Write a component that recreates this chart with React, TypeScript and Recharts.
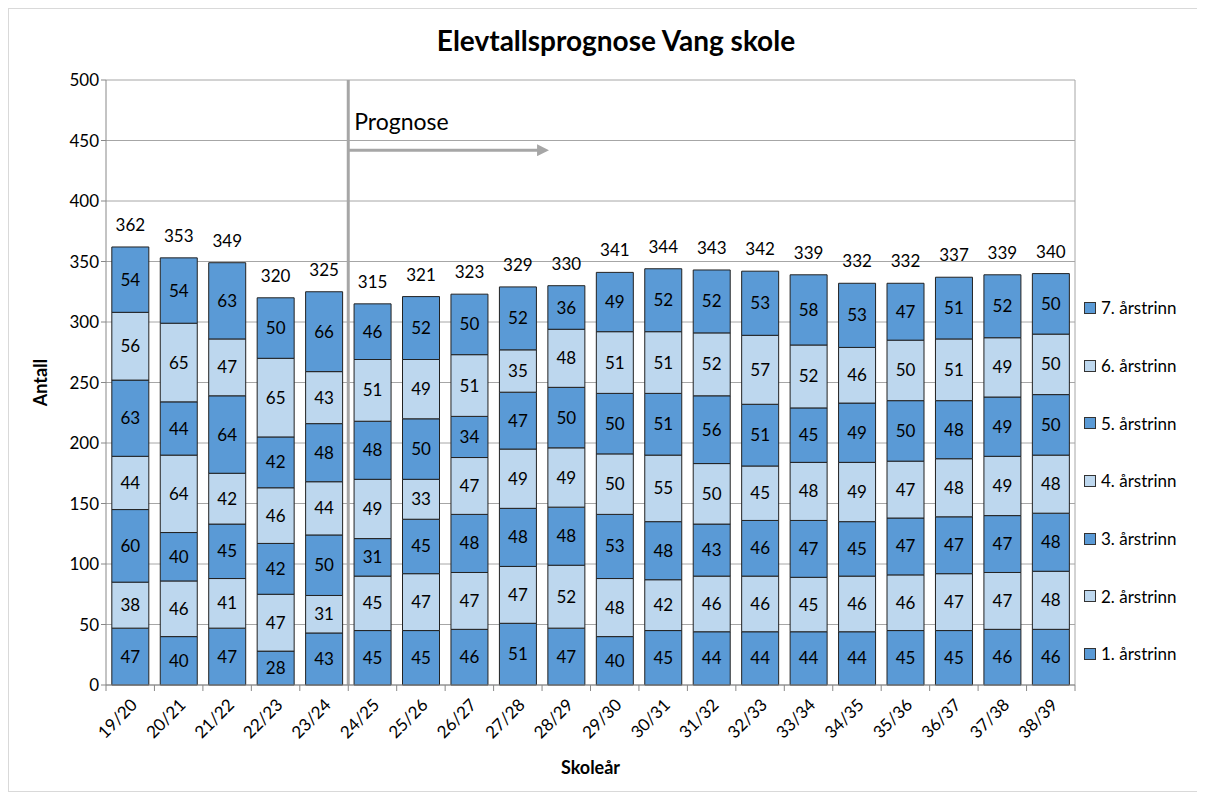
import React from 'react';
import { BarChart, Bar, XAxis, YAxis, CartesianGrid, LabelList, Legend, ReferenceLine, Label } from 'recharts';

const categories = ['19/20','20/21','21/22','22/23','23/24','24/25','25/26','26/27','27/28','28/29','29/30','30/31','31/32','32/33','33/34','34/35','35/36','36/37','37/38','38/39'];
const trinn1 = [47,40,47,28,43,45,45,46,51,47,40,45,44,44,44,44,45,45,46,46];
const trinn2 = [38,46,41,47,31,45,47,47,47,52,48,42,46,46,45,46,46,47,47,48];
const trinn3 = [60,40,45,42,50,31,45,48,48,48,53,48,43,46,47,45,47,47,47,48];
const trinn4 = [44,64,42,46,44,49,33,47,49,49,50,55,50,45,48,49,47,48,49,48];
const trinn5 = [63,44,64,42,48,48,50,34,47,50,50,51,56,51,45,49,50,48,49,50];
const trinn6 = [56,65,47,65,43,51,49,51,35,48,51,51,52,57,52,46,50,51,49,50];
const trinn7 = [54,54,63,50,66,46,52,50,52,36,49,52,52,53,58,53,47,51,52,50];
const seriesNames = ['1. årstrinn','2. årstrinn','3. årstrinn','4. årstrinn','5. årstrinn','6. årstrinn','7. årstrinn'];
const yTicks = [0,50,100,150,200,250,300,350,400,450,500];

const allSeries = [trinn1, trinn2, trinn3, trinn4, trinn5, trinn6, trinn7];
const DARK = '#5A9AD6';
const LIGHT = '#BDD7EE';
const FONT = 'Lato, "Liberation Sans", sans-serif';

const data = categories.map((c, i) => {
  const row: any = { name: c };
  let total = 0;
  allSeries.forEach((s, k) => { row['s' + k] = s[i]; total += s[i]; });
  row.total = total;
  return row;
});

const XTick = (props: any) => {
  const { x, y, payload } = props;
  const off = payload.offset || 24;
  const isLast = payload.value === categories[categories.length - 1];
  return (
    <g>
      <line x1={x - off} x2={x - off} y1={y - 8} y2={y - 2} stroke="#888" />
      {isLast && <line x1={x + off} x2={x + off} y1={y - 8} y2={y - 2} stroke="#888" />}
      <text x={x + 5} y={y + 10} textAnchor="end" fontSize={17} fontFamily={FONT} fill="#000"
        transform={`rotate(-45, ${x + 5}, ${y + 10})`} dominantBaseline="middle">{payload.value}</text>
    </g>
  );
};

const LegendContent = () => (
  <div style={{ fontFamily: FONT, fontSize: 17, color: '#000' }}>
    {seriesNames.map((n, k) => ({ n, k })).reverse().map(({ n, k }) => (
      <div key={n} style={{ height: 57.7, display: 'flex', alignItems: 'center' }}>
        <span style={{ display: 'inline-block', width: 10, height: 10, background: k % 2 === 0 ? DARK : LIGHT, border: '1px solid #333', marginRight: 5 }} />
        <span>{n}</span>
      </div>
    ))}
  </div>
);

export default function App() {
  return (
    <div style={{ position: 'relative', width: 1190, height: 782, border: '1px solid #d9d9d9', background: '#fff', fontFamily: FONT }}>
      <div style={{ position: 'absolute', left: 12, width: 1190, top: 14, textAlign: 'center', fontWeight: 'bold', fontSize: 28, color: '#000' }}>
        Elevtallsprognose Vang skole
      </div>
      <BarChart width={1190} height={782} data={data} margin={{ top: 71, right: 124, left: 37, bottom: 46 }} barCategoryGap="12%">
        <CartesianGrid vertical={false} stroke="#a6a6a6" />
        <XAxis dataKey="name" height={60} tick={<XTick />} tickLine={false} axisLine={{ stroke: '#888' }} interval={0}>
          <Label content={({ viewBox }: any) => (
            <text x={viewBox.x + viewBox.width / 2} y={viewBox.y + viewBox.height + 29} textAnchor="middle" fontWeight="bold" fontSize={18} fontFamily={FONT} fill="#000">Skoleår</text>
          )} />
        </XAxis>
        <YAxis width={60} domain={[0, 500]} ticks={yTicks} interval={0} tick={{ fontSize: 17, fill: '#000', fontFamily: FONT }} tickLine={{ stroke: '#888' }} tickSize={5} axisLine={{ stroke: '#888' }}>
          <Label content={({ viewBox }: any) => (
            <text x={viewBox.x - 4} y={viewBox.y + viewBox.height / 2} textAnchor="middle" fontWeight="bold" fontSize={18} fontFamily={FONT} fill="#000"
              transform={`rotate(-90, ${viewBox.x - 4}, ${viewBox.y + viewBox.height / 2})`} dominantBaseline="middle">Antall</text>
          )} />
        </YAxis>
        <Legend layout="vertical" align="center" verticalAlign="middle" content={<LegendContent />}
          wrapperStyle={{ left: 1075, top: 270, width: 115 }} />
        {allSeries.map((_, k) => (
          <Bar key={k} dataKey={'s' + k} name={seriesNames[k]} stackId="a" fill={k % 2 === 0 ? DARK : LIGHT} stroke="#222" strokeWidth={1} isAnimationActive={false}>
            <LabelList dataKey={'s' + k} position="center" fontSize={17} fill="#000" fontFamily={FONT} />
            {k === 6 && <LabelList dataKey="total" position="top" offset={16} fontSize={17} fill="#000" fontFamily={FONT} />}
          </Bar>
        ))}
        <ReferenceLine x="38/39" position="end" stroke="#a6a6a6" strokeWidth={1} ifOverflow="visible" />
        <ReferenceLine x="23/24" position="end" stroke="#a6a6a6" strokeWidth={3} ifOverflow="visible" />
        <defs>
          <marker id="arrowHead" markerWidth="4" markerHeight="4" refX="1" refY="2" orient="auto" markerUnits="strokeWidth">
            <path d="M0,0 L4,2 L0,4 Z" fill="#a6a6a6" />
          </marker>
        </defs>
        <ReferenceLine segment={[{ x: '23/24', y: 442 }, { x: '27/28', y: 442 }]} position="end" stroke="#a6a6a6" strokeWidth={3} ifOverflow="visible"
          shape={(p: any) => (
            <line x1={p.x1} y1={p.y1} x2={p.x2 - 2} y2={p.y2} stroke="#a6a6a6" strokeWidth={3} markerEnd="url(#arrowHead)" />
          )}>
          <Label content={({ viewBox }: any) => (
            <text x={viewBox.x + 6} y={viewBox.y - 20} fontSize={23} fontFamily={FONT} fill="#000">Prognose</text>
          )} />
        </ReferenceLine>
      </BarChart>
    </div>
  );
}
